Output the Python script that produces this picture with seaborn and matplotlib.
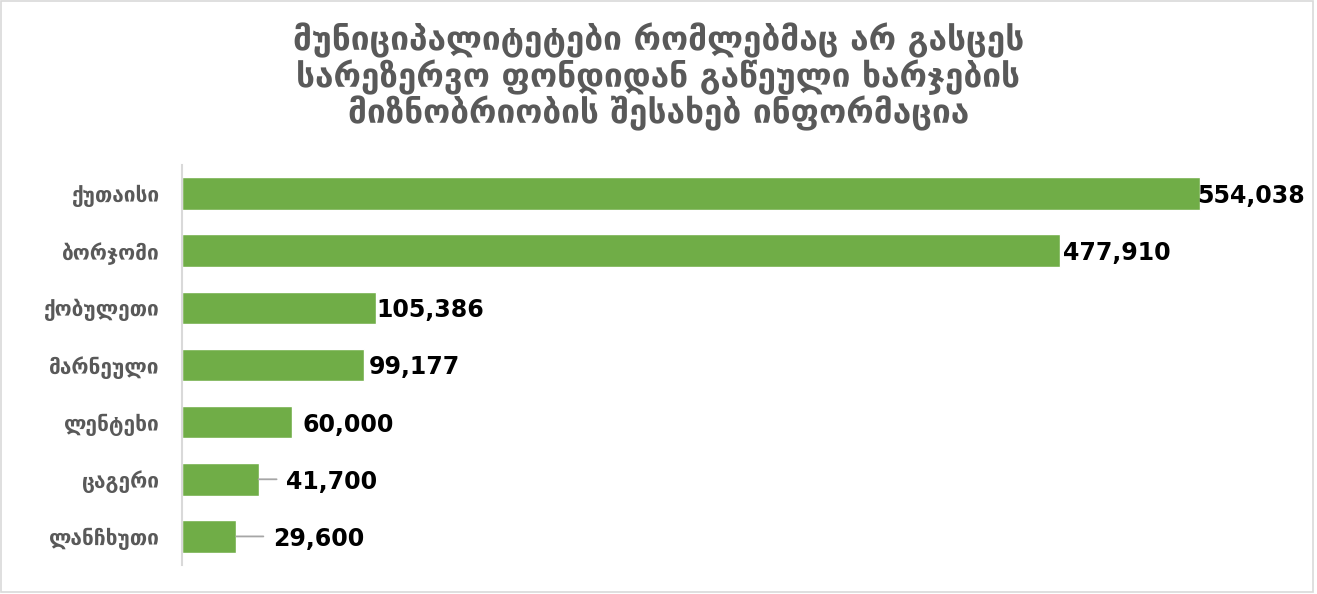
import matplotlib
matplotlib.use("Agg")
import matplotlib.pyplot as plt
import seaborn as sns
import pandas as pd
from matplotlib.patches import Rectangle

# ---- data ----
cities = ["ქუთაისი", "ბორჯომი", "ქობულეთი", "მარნეული", "ლენტეხი", "ცაგერი", "ლანჩხუთი"]
values = [554038, 477910, 105386, 99177, 60000, 41700, 29600]
title_lines = [
    "მუნიციპალიტეტები რომლებმაც არ გასცეს",
    "სარეზერვო ფონდიდან გაწეული ხარჯების",
    "მიზნობრიობის შესახებ ინფორმაცია",
]

# ---- styling (label offsets in px, leader line lengths in px) ----
label_offsets_px = [-2, 3, 1, 5, 10, 27, 37]
leader_px = [0, 0, 0, 0, 0, 18, 27]

sns.set_theme(style="white")
plt.rcParams['font.family'] = ['DejaVu Sans']

W, H = 1317, 594
fig = plt.figure(figsize=(W / 100, H / 100), dpi=100)
ax = fig.add_axes([182 / W, (H - 565) / H, (1284 - 182) / W, 400 / H])

df = pd.DataFrame({"city": cities, "value": values})
sns.barplot(data=df, x="value", y="city", orient="h", color="#70ad47",
            saturation=1, width=0.57, ax=ax)

ax.set_xlim(0, 600000)
ax.set_ylim(6.5, -0.5)
ax.set_xlabel("")
ax.set_ylabel("")
ax.set_xticks([])
for s in ["top", "right", "bottom"]:
    ax.spines[s].set_visible(False)
ax.spines["left"].set_color("#d9d9d9")
ax.spines["left"].set_linewidth(1.5)
ax.tick_params(axis="y", length=0, pad=16)
for lab in ax.get_yticklabels():
    lab.set_fontsize(15)
    lab.set_fontweight("bold")
    lab.set_color("#595959")

pt = 72 / 100  # px -> points
for i, v in enumerate(values):
    if leader_px[i] > 0:
        ax.annotate("", xy=(v, i), xytext=(leader_px[i] * pt, 0),
                    textcoords="offset points",
                    arrowprops=dict(arrowstyle="-", color="#a6a6a6", lw=1.3,
                                    shrinkA=0, shrinkB=0))
    ax.annotate(f"{v:,}", xy=(v, i), xytext=(label_offsets_px[i] * pt, 0),
                textcoords="offset points", ha="left", va="center_baseline",
                fontsize=17, fontweight="bold", color="black")

fig.text(0.5, 1 - 77 / H, "\n".join(title_lines), ha="center", va="center",
         fontsize=24, fontweight="bold", color="#595959", linespacing=1.03)

fig.patches.append(Rectangle((1 / W, 2 / H), (1312 / W), (H - 3) / H,
                             transform=fig.transFigure, fill=False,
                             edgecolor="#d9d9d9", linewidth=1.2))

fig.savefig("out.png", dpi=100)
